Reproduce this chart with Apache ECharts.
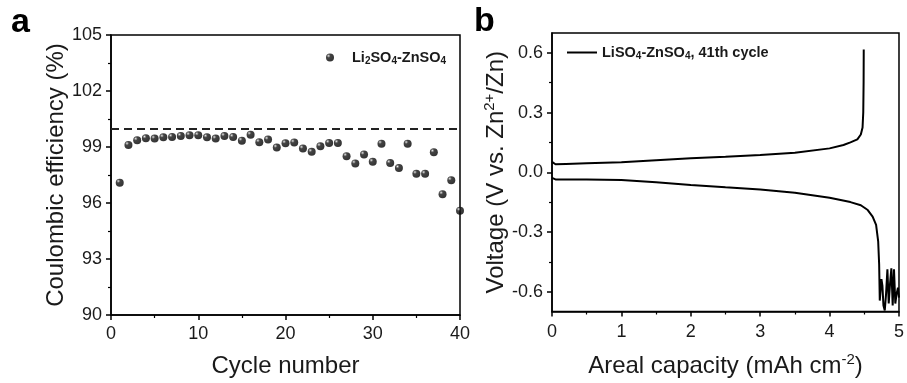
<!DOCTYPE html>
<html><head><meta charset="utf-8">
<script src="https://cdn.jsdelivr.net/npm/echarts@6/dist/echarts.min.js"></script>
<style>html,body{margin:0;padding:0;background:#fff}#c{width:907px;height:383px}</style>
</head><body><div id="c"></div>
<script>
// Panel a: Coulombic efficiency
const cycles = [1,2,3,4,5,6,7,8,9,10,11,12,13,14,15,16,17,18,19,20,21,22,23,24,25,26,27,28,29,30,31,32,33,34,35,36,37,38,39,40];
const ceValues = [97.09,99.11,99.36,99.47,99.45,99.52,99.54,99.59,99.63,99.63,99.52,99.45,99.59,99.54,99.34,99.66,99.26,99.40,98.97,99.20,99.24,98.92,98.74,99.04,99.22,99.22,98.51,98.12,98.60,98.21,99.18,98.14,97.87,99.18,97.57,97.57,98.72,96.47,97.22,95.59];
const refLine = [100];
const ceTicks = [90,93,96,99,102,105];

// Panel b: voltage profile (41th cycle)
const capCharge = [0,0.02,0.05,0.2,0.5,1.0,1.5,2.0,2.5,3.0,3.5,4.0,4.2,4.3,4.4,4.45,4.475,4.485,4.49,4.492];
const vCharge   = [0.052,0.042,0.040,0.042,0.045,0.050,0.060,0.070,0.078,0.087,0.098,0.120,0.137,0.150,0.165,0.190,0.225,0.300,0.450,0.617];
const capDischarge = [0,0.02,0.05,0.5,1.0,1.5,2.0,2.5,3.0,3.5,4.0,4.3,4.45,4.55,4.62,4.67,4.70,4.714,4.723,4.747,4.761,4.776,4.795,4.814,4.833,4.852,4.871,4.89,4.909,4.928,4.947,4.966,4.985,5.0];
const vDischarge   = [-0.028,-0.034,-0.036,-0.036,-0.039,-0.050,-0.064,-0.076,-0.087,-0.103,-0.128,-0.150,-0.166,-0.190,-0.223,-0.265,-0.347,-0.463,-0.645,-0.537,-0.570,-0.670,-0.695,-0.610,-0.488,-0.660,-0.560,-0.483,-0.670,-0.488,-0.660,-0.610,-0.580,-0.630];
const vMajorTicks = [-0.6,-0.3,0,0.3,0.6];
const vMinorTicks = [-0.45,-0.15,0.15,0.45];

const FONT = 'Liberation Sans, Arial, sans-serif';
const TXT = '#1a1a1a';
const ball = {type:'radial', x:0.32, y:0.3, r:0.75, colorStops:[
  {offset:0,color:'#f4f4f4'},{offset:0.12,color:'#888'},{offset:0.32,color:'#151515'},{offset:1,color:'#000'}]};

function baseAxis(extra){
  return Object.assign({
    type:'value',
    nameLocation:'middle',
    nameTextStyle:{fontSize:24, color:TXT, fontFamily:FONT},
    axisLine:{show:true, onZero:false, lineStyle:{color:'#000', width:1.5}},
    axisTick:{show:true, inside:false, length:5, lineStyle:{color:'#000', width:1.5}},
    minorTick:{show:true, splitNumber:2, length:3, lineStyle:{color:'#000', width:1.2}},
    axisLabel:{fontSize:18, color:TXT, fontFamily:FONT},
    splitLine:{show:false}, minorSplitLine:{show:false}
  }, extra);
}

const legendText = {fontSize:14.5, fontWeight:'bold', color:TXT, fontFamily:FONT,
  rich:{sub:{fontSize:10, fontWeight:'bold', color:TXT, fontFamily:FONT, padding:[7,0,0,0]}}};

const chart = echarts.init(document.getElementById('c'), null, {renderer:'canvas'});
chart.setOption({
  animation:false,
  backgroundColor:'#fff',
  textStyle:{fontFamily:FONT},
  grid:[
    {left:111, top:35, width:349, height:282, show:true, borderColor:'#000', borderWidth:1.5, containLabel:false},
    {left:552, top:33, width:350, height:280, show:true, borderColor:'#000', borderWidth:1.5, containLabel:false}
  ],
  xAxis:[
    baseAxis({gridIndex:0, min:0, max:40, interval:10, name:'Cycle number', nameGap:39,
      axisLabel:{fontSize:18, color:TXT, fontFamily:FONT, margin:10}}),
    baseAxis({gridIndex:1, min:0, max:5, interval:1, name:'Areal capacity (mAh cm{sup|-2})', nameGap:41,
      nameTextStyle:{fontSize:24, color:TXT, fontFamily:FONT, rich:{sup:{fontSize:15, color:TXT, fontFamily:FONT, padding:[0,0,12,0]}}},
      axisLabel:{fontSize:18, color:TXT, fontFamily:FONT, margin:12}})
  ],
  yAxis:[
    baseAxis({gridIndex:0, position:'left', min:ceTicks[0], max:ceTicks[ceTicks.length-1], interval:3,
      name:'Coulombic efficiency (%)', nameGap:42,
      axisLabel:{fontSize:18, color:TXT, fontFamily:FONT, margin:9}}),
    baseAxis({gridIndex:1, position:'left', min:-0.7, max:0.7,
      name:'Voltage (V vs. Zn{sup|2+}/Zn)', nameGap:42,
      nameTextStyle:{fontSize:24, color:TXT, fontFamily:FONT, rich:{sup:{fontSize:15, color:TXT, fontFamily:FONT, padding:[0,0,12,0]}}},
      minorTick:{show:false},
      axisTick:{show:true, inside:false, length:5, customValues:vMajorTicks, lineStyle:{color:'#000', width:1.5}},
      axisLabel:{fontSize:18, color:TXT, fontFamily:FONT, margin:9, customValues:vMajorTicks, formatter:v=>Number(v).toFixed(1)}}),
    {type:'value', gridIndex:1, position:'left', min:-0.7, max:0.7,
      axisLine:{show:false}, axisLabel:{show:false}, splitLine:{show:false},
      axisTick:{show:true, inside:false, length:3, customValues:vMinorTicks, lineStyle:{color:'#000', width:1.2}}}
  ],
  legend:[
    {data:['Li2SO4-ZnSO4'], left:326, top:50, padding:0, itemWidth:34, itemHeight:8, icon:'circle',
      formatter:()=>'Li{sub|2}SO{sub|4}-ZnSO{sub|4}', textStyle:legendText},
    {data:['LiSO4-ZnSO4, 41th cycle'], left:567, top:45, padding:0, itemWidth:30, itemHeight:2, icon:'rect',
      formatter:()=>'LiSO{sub|4}-ZnSO{sub|4}, 41th cycle', textStyle:legendText}
  ],
  graphic:[
    {type:'text', left:11, top:6, style:{text:'a', font:'bold 34px '+FONT, fill:'#000'}},
    {type:'text', left:474, top:5, style:{text:'b', font:'bold 34px '+FONT, fill:'#000'}}
  ],
  series:[
    {type:'scatter', name:'Li2SO4-ZnSO4', xAxisIndex:0, yAxisIndex:0, symbol:'circle', symbolSize:8,
      itemStyle:{color:ball},
      data:cycles.map((c,i)=>[c, ceValues[i]]),
      markLine:{silent:true, symbol:'none', label:{show:false},
        lineStyle:{type:[8,5], color:'#222', width:2},
        data:refLine.map(v=>({yAxis:v}))}},
    {type:'line', name:'LiSO4-ZnSO4, 41th cycle', xAxisIndex:1, yAxisIndex:1, showSymbol:false, symbol:'none',
      lineStyle:{color:'#000', width:2}, itemStyle:{color:'#000'},
      data:capCharge.map((c,i)=>[c, vCharge[i]])},
    {type:'line', name:'LiSO4-ZnSO4, 41th cycle', xAxisIndex:1, yAxisIndex:1, showSymbol:false, symbol:'none',
      lineStyle:{color:'#000', width:2}, itemStyle:{color:'#000'},
      data:capDischarge.map((c,i)=>[c, vDischarge[i]])}
  ]
});
</script>
</body></html>
